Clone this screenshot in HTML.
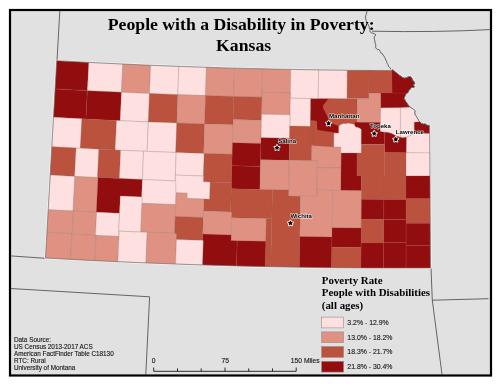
<!DOCTYPE html>
<html><head><meta charset="utf-8"><style>
html,body{margin:0;padding:0;background:#fff;}
svg{display:block;} text{will-change:transform;}
</style></head><body>
<svg width="500" height="386" viewBox="0 0 500 386">
<rect x="0" y="0" width="500" height="386" fill="#fff"/>
<rect x="10" y="10" width="481" height="365.5" fill="#e1e1e1" stroke="#000" stroke-width="2.2"/>
<g fill="none" stroke="#444" stroke-width="0.8">
<path d="M59.8,11 L57,60.7"/>
<path d="M10.6,255.9 L45.5,258.3"/>
<path d="M10.6,288.5 L149.6,296.8 L145.8,374.5"/>
<path d="M431,268 L432.3,300.2 L488.5,298.7"/>
<path d="M432.3,300.2 L442,374.5"/>
<path d="M366.90,10.50 L366.98,11.78 L366.60,13.00 L366.16,14.24 L365.80,15.50 L365.30,17.10 L365.66,18.33 L365.80,19.60 L366.26,20.89 L366.90,22.10 L367.50,23.41 L368.30,24.60 L369.08,26.16 L369.10,27.90 L369.93,29.45 L369.90,31.20 L370.54,32.26 L371.60,32.90 L372.92,33.09 L374.10,33.70 L375.70,34.50 L375.38,35.74 L374.23,36.58 L374.10,37.90 L374.53,39.54 L374.90,41.20 L375.01,42.92 L375.70,44.50 L375.72,46.15 L375.70,47.80 L376.46,48.74 L377.40,49.50 L378.75,49.60 L379.90,50.30 L380.18,51.59 L380.70,52.80 L382.40,53.60 L382.92,55.03 L384.00,56.10 L384.90,57.80 L385.41,58.91 L385.77,60.09 L386.50,61.10 L386.75,62.40 L387.30,63.60 L388.12,64.66 L388.20,66.00 L389.80,67.70 L390.79,68.97 L392.10,69.90"/>
<path d="M372,31.2 Q436,32.5 490,29.6"/>
</g>
<path d="M56.68,60.65 L98.56,62.88 L140.45,64.83 L182.36,66.48 L224.27,67.85 L266.20,68.92 L308.13,69.70 L350.06,70.19 L392.00,70.39 L391.90,69.60 L393.50,70.30 L394.70,71.40 L396.20,72.60 L397.80,73.80 L398.90,74.90 L400.10,75.70 L401.70,76.50 L402.80,77.70 L404.40,78.00 L406.30,77.70 L407.90,76.90 L409.40,76.50 L411.00,76.90 L412.10,78.40 L412.50,80.00 L413.70,81.20 L414.50,82.30 L414.90,83.90 L413.70,84.60 L412.90,85.00 L414.10,85.80 L414.90,86.60 L413.70,87.40 L412.10,87.40 L411.00,87.80 L410.20,89.30 L409.00,90.50 L408.30,92.00 L407.60,93.10 L406.80,93.10 L405.90,94.30 L405.00,96.20 L404.10,98.50 L405.40,100.80 L406.80,102.70 L408.20,105.00 L410.10,107.10 L412.00,108.30 L413.40,109.20 L414.80,110.20 L415.20,111.60 L414.80,112.90 L415.20,114.80 L416.60,116.70 L417.60,118.50 L418.50,120.40 L419.90,121.80 L421.30,123.20 L423.10,124.10 L425.00,123.70 L426.90,125.10 L429.50,125.40 L429.79,130.33 L430.46,268.03 L430.46,268.03 L382.32,268.07 L334.17,267.75 L286.02,267.06 L237.89,266.00 L189.76,264.56 L141.64,262.76 L93.55,260.58 L45.46,258.03Z" fill="none" stroke="#fff" stroke-opacity="0.9" stroke-width="2.0" stroke-linejoin="round"/>
<g>
<path stroke="#c06060" stroke-width="0.5" stroke-opacity="0.3" fill="#910d0e" d="M56.68,60.65 L88.84,62.39 L87.38,90.65 L55.08,88.90Z"/>
<path stroke="#7a6e6e" stroke-width="0.5" stroke-opacity="0.5" fill="#fde0df" d="M88.84,62.39 L122.80,64.05 L121.50,92.32 L87.38,90.65Z"/>
<path stroke="#7a6262" stroke-width="0.5" stroke-opacity="0.4" fill="#e09282" d="M122.80,64.05 L150.67,65.26 L149.50,93.54 L121.50,92.32Z"/>
<path stroke="#7a6e6e" stroke-width="0.5" stroke-opacity="0.5" fill="#fde0df" d="M150.67,65.26 L178.85,66.36 L177.81,94.64 L149.50,93.54Z"/>
<path stroke="#7a6e6e" stroke-width="0.5" stroke-opacity="0.5" fill="#fde0df" d="M178.85,66.36 L206.43,67.30 L205.53,95.59 L177.81,94.64Z"/>
<path stroke="#7a6262" stroke-width="0.5" stroke-opacity="0.4" fill="#e09282" d="M206.43,67.30 L234.52,68.14 L233.75,96.43 L205.53,95.59Z"/>
<path stroke="#7a6262" stroke-width="0.5" stroke-opacity="0.4" fill="#e09282" d="M234.52,68.14 L262.61,68.84 L261.97,97.13 L233.75,96.43Z"/>
<path stroke="#7a6262" stroke-width="0.5" stroke-opacity="0.4" fill="#e09282" d="M262.61,68.84 L290.81,69.41 L290.38,93.01 L262.08,92.43Z"/>
<path stroke="#7a6e6e" stroke-width="0.5" stroke-opacity="0.5" fill="#fde0df" d="M290.81,69.41 L318.60,69.85 L318.21,98.65 L290.29,98.21Z"/>
<path stroke="#7a6e6e" stroke-width="0.5" stroke-opacity="0.5" fill="#fde0df" d="M318.60,69.85 L347.30,70.17 L347.05,98.97 L318.21,98.65Z"/>
<path stroke="#7a5a50" stroke-width="0.5" stroke-opacity="0.25" fill="#bb523d" d="M347.30,70.17 L369.00,70.32 L368.86,98.62 L347.05,98.47Z"/>
<path stroke="#7a5a50" stroke-width="0.5" stroke-opacity="0.25" fill="#bb523d" d="M369.00,70.32 L392.00,70.39 L391.97,92.99 L368.88,92.92Z"/>
<path stroke="#c06060" stroke-width="0.5" stroke-opacity="0.3" fill="#910d0e" d="M55.08,88.90 L87.38,90.65 L85.92,119.02 L53.47,117.26Z"/>
<path stroke="#c06060" stroke-width="0.5" stroke-opacity="0.3" fill="#910d0e" d="M87.38,90.65 L121.50,92.32 L120.20,120.69 L85.92,119.02Z"/>
<path stroke="#7a6e6e" stroke-width="0.5" stroke-opacity="0.5" fill="#fde0df" d="M121.50,92.32 L149.50,93.54 L148.33,121.91 L120.20,120.69Z"/>
<path stroke="#7a5a50" stroke-width="0.5" stroke-opacity="0.25" fill="#bb523d" d="M149.50,93.54 L177.81,94.64 L176.78,123.02 L148.33,121.91Z"/>
<path stroke="#7a6262" stroke-width="0.5" stroke-opacity="0.4" fill="#e09282" d="M177.81,94.64 L205.53,95.59 L204.62,123.97 L176.78,123.02Z"/>
<path stroke="#7a5a50" stroke-width="0.5" stroke-opacity="0.25" fill="#bb523d" d="M205.53,95.59 L233.75,96.43 L232.97,124.81 L204.62,123.97Z"/>
<path stroke="#7a5a50" stroke-width="0.5" stroke-opacity="0.25" fill="#bb523d" d="M233.75,96.43 L261.97,97.13 L261.44,120.33 L233.11,119.62Z"/>
<path stroke="#7a6262" stroke-width="0.5" stroke-opacity="0.4" fill="#e09282" d="M262.08,92.43 L290.38,93.01 L289.99,114.71 L261.58,114.13Z"/>
<path stroke="#7a6e6e" stroke-width="0.5" stroke-opacity="0.5" fill="#fde0df" d="M290.29,98.21 L310.98,98.55 L310.57,126.45 L289.78,126.11Z"/>
<path stroke="#7a6e6e" stroke-width="0.5" stroke-opacity="0.5" fill="#fde0df" d="M53.47,117.26 L81.89,118.81 L80.35,148.27 L51.79,146.71Z"/>
<path stroke="#7a5a50" stroke-width="0.5" stroke-opacity="0.25" fill="#bb523d" d="M81.89,118.81 L116.57,120.52 L115.20,149.99 L80.35,148.27Z"/>
<path stroke="#7a6e6e" stroke-width="0.5" stroke-opacity="0.5" fill="#fde0df" d="M116.57,120.52 L148.33,121.91 L147.12,151.39 L115.20,149.99Z"/>
<path stroke="#7a6e6e" stroke-width="0.5" stroke-opacity="0.5" fill="#fde0df" d="M148.33,121.91 L176.78,123.02 L175.70,152.50 L147.12,151.39Z"/>
<path stroke="#7a5a50" stroke-width="0.5" stroke-opacity="0.25" fill="#bb523d" d="M176.78,123.02 L204.62,123.97 L203.67,153.46 L175.70,152.50Z"/>
<path stroke="#7a6262" stroke-width="0.5" stroke-opacity="0.4" fill="#e09282" d="M204.62,123.97 L232.97,124.81 L232.16,154.30 L203.67,153.46Z"/>
<path stroke="#7a6262" stroke-width="0.5" stroke-opacity="0.4" fill="#e09282" d="M233.11,119.62 L261.44,120.33 L260.92,143.42 L232.48,142.71Z"/>
<path stroke="#7a6e6e" stroke-width="0.5" stroke-opacity="0.5" fill="#fde0df" d="M261.58,114.13 L289.99,114.71 L289.56,138.30 L261.05,137.72Z"/>
<path stroke="#c06060" stroke-width="0.5" stroke-opacity="0.3" fill="#910d0e" d="M232.48,142.71 L260.92,143.42 L260.40,166.41 L231.85,165.70Z"/>
<path stroke="#c06060" stroke-width="0.5" stroke-opacity="0.3" fill="#910d0e" d="M261.05,137.72 L289.56,138.30 L289.17,160.30 L260.55,159.72Z"/>
<path stroke="#7a5a50" stroke-width="0.5" stroke-opacity="0.25" fill="#bb523d" d="M289.78,126.11 L312.09,126.47 L311.59,160.66 L289.17,160.30Z"/>
<path stroke="#7a5a50" stroke-width="0.5" stroke-opacity="0.25" fill="#bb523d" d="M310.82,109.75 L334.97,110.05 L334.60,145.15 L310.30,144.84Z"/>
<path stroke="#7a5a50" stroke-width="0.5" stroke-opacity="0.25" fill="#bb523d" d="M318.21,98.65 L357.20,99.05 L357.01,126.25 L334.74,132.05 L324.26,129.93Z"/>
<path stroke="#7a6262" stroke-width="0.5" stroke-opacity="0.4" fill="#e09282" d="M311.82,144.87 L334.60,145.15 L334.60,145.15 L341.28,145.22 L341.06,167.92 L317.29,167.64 L317.38,160.74 L311.59,160.66Z"/>
<path stroke="#7a5a50" stroke-width="0.5" stroke-opacity="0.25" fill="#bb523d" d="M51.79,146.71 L76.10,148.04 L74.60,176.40 L50.18,175.06Z"/>
<path stroke="#7a6e6e" stroke-width="0.5" stroke-opacity="0.5" fill="#fde0df" d="M76.10,148.04 L98.89,149.21 L97.49,177.57 L74.60,176.40Z"/>
<path stroke="#7a5a50" stroke-width="0.5" stroke-opacity="0.25" fill="#bb523d" d="M98.89,149.21 L120.67,150.24 L119.38,178.61 L97.49,177.57Z"/>
<path stroke="#7a6e6e" stroke-width="0.5" stroke-opacity="0.5" fill="#fde0df" d="M120.67,150.24 L143.57,151.24 L142.38,179.61 L119.38,178.61Z"/>
<path stroke="#7a6e6e" stroke-width="0.5" stroke-opacity="0.5" fill="#fde0df" d="M143.57,151.24 L176.20,152.52 L175.17,180.90 L142.38,179.61Z"/>
<path stroke="#7a6e6e" stroke-width="0.5" stroke-opacity="0.5" fill="#fde0df" d="M176.20,152.52 L204.18,153.47 L203.46,176.06 L175.38,175.10Z"/>
<path stroke="#7a5a50" stroke-width="0.5" stroke-opacity="0.25" fill="#bb523d" d="M204.18,153.47 L232.16,154.30 L231.39,182.69 L203.28,181.86Z"/>
<path stroke="#c06060" stroke-width="0.5" stroke-opacity="0.3" fill="#910d0e" d="M231.85,165.70 L260.40,166.41 L259.87,189.51 L231.22,188.79Z"/>
<path stroke="#7a6262" stroke-width="0.5" stroke-opacity="0.4" fill="#e09282" d="M260.55,159.72 L289.17,160.30 L288.63,190.09 L259.87,189.51Z"/>
<path stroke="#7a6262" stroke-width="0.5" stroke-opacity="0.4" fill="#e09282" d="M289.17,160.30 L317.38,160.74 L316.90,196.54 L288.52,196.09Z"/>
<path stroke="#7a6262" stroke-width="0.5" stroke-opacity="0.4" fill="#e09282" d="M317.29,167.64 L341.06,167.92 L340.85,190.52 L316.98,190.24Z"/>
<path stroke="#c06060" stroke-width="0.5" stroke-opacity="0.3" fill="#910d0e" d="M341.21,152.92 L361.68,153.08 L361.45,190.68 L340.85,190.52Z"/>
<path stroke="#7a5a50" stroke-width="0.5" stroke-opacity="0.25" fill="#bb523d" d="M356.98,144.45 L384.31,144.58 L384.23,176.08 L356.76,175.95Z"/>
<path stroke="#7a5a50" stroke-width="0.5" stroke-opacity="0.25" fill="#bb523d" d="M384.29,152.28 L405.98,152.30 L406.00,176.10 L384.23,176.08Z"/>
<path stroke="#7a6e6e" stroke-width="0.5" stroke-opacity="0.5" fill="#fde0df" d="M405.98,152.30 L429.90,152.23 L430.01,175.93 L406.00,176.00Z"/>
<path stroke="#7a6e6e" stroke-width="0.5" stroke-opacity="0.5" fill="#fde0df" d="M50.18,175.06 L74.90,176.42 L73.07,211.07 L48.21,209.71Z"/>
<path stroke="#7a6262" stroke-width="0.5" stroke-opacity="0.4" fill="#e09282" d="M74.90,176.42 L98.00,177.60 L96.30,212.26 L73.07,211.07Z"/>
<path stroke="#c06060" stroke-width="0.5" stroke-opacity="0.3" fill="#910d0e" d="M98.00,177.60 L142.38,179.61 L141.66,196.90 L120.33,195.97 L119.54,213.35 L96.30,212.26Z"/>
<path stroke="#7a6e6e" stroke-width="0.5" stroke-opacity="0.5" fill="#fde0df" d="M142.38,179.61 L176.49,180.95 L175.63,204.63 L141.39,203.29Z"/>
<path stroke="#7a6e6e" stroke-width="0.5" stroke-opacity="0.5" fill="#fde0df" d="M175.38,175.10 L203.46,176.06 L203.28,181.86 L210.20,182.08 L209.67,199.27 L186.90,198.53 L187.08,193.23 L176.06,192.84Z"/>
<path stroke="#7a5a50" stroke-width="0.5" stroke-opacity="0.25" fill="#bb523d" d="M210.20,182.08 L231.39,182.69 L230.59,211.88 L203.47,211.08 L203.85,199.09 L209.67,199.27Z"/>
<path stroke="#7a6262" stroke-width="0.5" stroke-opacity="0.4" fill="#e09282" d="M176.06,192.84 L187.08,193.23 L186.90,198.53 L203.85,199.09 L203.27,217.48 L175.20,216.52 L175.63,204.63 L175.63,204.63Z"/>
<path stroke="#7a5a50" stroke-width="0.5" stroke-opacity="0.25" fill="#bb523d" d="M231.22,188.79 L272.41,189.78 L271.81,218.77 L230.43,217.78Z"/>
<path stroke="#7a5a50" stroke-width="0.5" stroke-opacity="0.25" fill="#bb523d" d="M272.41,189.78 L288.63,190.09 L288.52,196.09 L300.46,196.30 L299.32,267.29 L270.82,266.76Z"/>
<path stroke="#7a6262" stroke-width="0.5" stroke-opacity="0.4" fill="#e09282" d="M300.46,196.30 L316.90,196.54 L316.98,190.24 L332.69,190.43 L332.18,237.03 L299.81,236.59Z"/>
<path stroke="#7a6262" stroke-width="0.5" stroke-opacity="0.4" fill="#e09282" d="M332.69,190.43 L361.45,190.68 L361.21,228.08 L332.28,227.83Z"/>
<path stroke="#7a5a50" stroke-width="0.5" stroke-opacity="0.25" fill="#bb523d" d="M361.54,175.98 L384.03,176.08 L383.97,199.38 L361.39,199.28Z"/>
<path stroke="#7a5a50" stroke-width="0.5" stroke-opacity="0.25" fill="#bb523d" d="M384.03,176.08 L406.00,176.10 L406.03,199.40 L383.97,199.38Z"/>
<path stroke="#c06060" stroke-width="0.5" stroke-opacity="0.3" fill="#910d0e" d="M406.00,176.00 L430.01,175.93 L430.13,198.63 L406.03,198.70Z"/>
<path stroke="#7a6262" stroke-width="0.5" stroke-opacity="0.4" fill="#e09282" d="M48.21,209.71 L73.48,211.09 L72.29,233.76 L46.92,232.37Z"/>
<path stroke="#7a6262" stroke-width="0.5" stroke-opacity="0.4" fill="#e09282" d="M73.48,211.09 L96.61,212.27 L95.47,235.44 L72.26,234.26Z"/>
<path stroke="#7a6e6e" stroke-width="0.5" stroke-opacity="0.5" fill="#fde0df" d="M96.61,212.27 L119.54,213.35 L118.49,236.53 L95.47,235.44Z"/>
<path stroke="#7a6e6e" stroke-width="0.5" stroke-opacity="0.5" fill="#fde0df" d="M120.33,195.97 L142.27,196.92 L140.81,232.09 L118.73,231.13Z"/>
<path stroke="#7a6262" stroke-width="0.5" stroke-opacity="0.4" fill="#e09282" d="M142.01,203.32 L175.63,204.63 L174.59,233.41 L140.81,232.09Z"/>
<path stroke="#7a5a50" stroke-width="0.5" stroke-opacity="0.25" fill="#bb523d" d="M175.20,216.52 L203.27,217.48 L202.54,240.37 L174.37,239.41Z"/>
<path stroke="#7a6262" stroke-width="0.5" stroke-opacity="0.4" fill="#e09282" d="M203.47,211.08 L231.81,211.92 L231.19,234.91 L202.74,234.07Z"/>
<path stroke="#7a6262" stroke-width="0.5" stroke-opacity="0.4" fill="#e09282" d="M231.65,217.81 L266.59,218.66 L266.10,241.36 L231.04,240.51Z"/>
<path stroke="#7a5a50" stroke-width="0.5" stroke-opacity="0.25" fill="#bb523d" d="M266.28,218.66 L271.81,218.77 L270.82,266.76 L265.25,266.65Z"/>
<path stroke="#c06060" stroke-width="0.5" stroke-opacity="0.3" fill="#910d0e" d="M361.39,199.28 L383.86,199.38 L383.81,219.58 L361.27,219.48Z"/>
<path stroke="#c06060" stroke-width="0.5" stroke-opacity="0.3" fill="#910d0e" d="M383.86,199.38 L406.03,199.40 L406.05,219.60 L383.81,219.58Z"/>
<path stroke="#7a5a50" stroke-width="0.5" stroke-opacity="0.25" fill="#bb523d" d="M406.03,198.70 L430.13,198.63 L430.25,223.23 L406.05,223.30Z"/>
<path stroke="#7a5a50" stroke-width="0.5" stroke-opacity="0.25" fill="#bb523d" d="M361.27,219.48 L383.81,219.58 L383.75,243.08 L361.12,242.98Z"/>
<path stroke="#c06060" stroke-width="0.5" stroke-opacity="0.3" fill="#910d0e" d="M383.81,219.58 L406.05,219.60 L406.07,242.70 L383.75,242.68Z"/>
<path stroke="#c06060" stroke-width="0.5" stroke-opacity="0.3" fill="#910d0e" d="M406.05,223.30 L430.25,223.23 L430.35,245.63 L406.07,245.70Z"/>
<path stroke="#7a6262" stroke-width="0.5" stroke-opacity="0.4" fill="#e09282" d="M46.92,232.37 L71.88,233.74 L70.52,259.40 L45.46,258.03Z"/>
<path stroke="#7a6262" stroke-width="0.5" stroke-opacity="0.4" fill="#e09282" d="M71.85,234.24 L96.09,235.47 L94.86,260.64 L70.52,259.40Z"/>
<path stroke="#7a6262" stroke-width="0.5" stroke-opacity="0.4" fill="#e09282" d="M96.09,235.47 L119.00,236.55 L117.86,261.73 L94.86,260.64Z"/>
<path stroke="#7a6e6e" stroke-width="0.5" stroke-opacity="0.5" fill="#fde0df" d="M119.25,231.16 L147.17,232.36 L145.93,262.93 L117.86,261.73Z"/>
<path stroke="#7a6262" stroke-width="0.5" stroke-opacity="0.4" fill="#e09282" d="M147.17,232.36 L176.64,233.49 L175.54,264.07 L145.93,262.93Z"/>
<path stroke="#7a6e6e" stroke-width="0.5" stroke-opacity="0.5" fill="#fde0df" d="M176.43,239.48 L203.36,240.39 L202.58,264.98 L175.54,264.07Z"/>
<path stroke="#c06060" stroke-width="0.5" stroke-opacity="0.3" fill="#910d0e" d="M202.74,234.07 L231.19,234.91 L231.04,240.51 L237.21,240.67 L236.54,265.96 L202.58,264.98 L203.36,240.39 L202.54,240.37Z"/>
<path stroke="#c06060" stroke-width="0.5" stroke-opacity="0.3" fill="#910d0e" d="M237.21,240.67 L265.79,241.35 L265.25,266.65 L236.54,265.96Z"/>
<path stroke="#c06060" stroke-width="0.5" stroke-opacity="0.3" fill="#910d0e" d="M299.81,236.59 L331.97,237.03 L331.64,267.73 L299.32,267.29Z"/>
<path stroke="#c06060" stroke-width="0.5" stroke-opacity="0.3" fill="#910d0e" d="M332.07,227.83 L361.21,228.08 L361.09,247.48 L331.86,247.23Z"/>
<path stroke="#7a5a50" stroke-width="0.5" stroke-opacity="0.25" fill="#bb523d" d="M331.86,247.23 L361.09,247.48 L360.96,267.98 L331.64,267.73Z"/>
<path stroke="#c06060" stroke-width="0.5" stroke-opacity="0.3" fill="#910d0e" d="M361.12,242.98 L383.75,243.08 L383.68,268.08 L360.96,267.98Z"/>
<path stroke="#c06060" stroke-width="0.5" stroke-opacity="0.3" fill="#910d0e" d="M383.75,242.68 L406.07,242.70 L406.09,268.10 L383.68,268.08Z"/>
<path stroke="#c06060" stroke-width="0.5" stroke-opacity="0.3" fill="#910d0e" d="M406.07,245.70 L430.35,245.63 L430.46,268.03 L406.09,268.10Z"/>
<path stroke="#7a5a50" stroke-width="0.5" stroke-opacity="0.25" fill="#bb523d" d="M310.80,98.80 L357.10,98.90 L357.10,128.00 L334.00,133.00 L310.80,127.00Z"/>
<path stroke="#7a5a50" stroke-width="0.5" stroke-opacity="0.25" fill="#bb523d" d="M310.80,118.00 L334.20,118.00 L333.80,147.00 L312.60,145.60 L312.60,126.70 L310.80,126.70Z"/>
<path stroke="#c06060" stroke-width="0.5" stroke-opacity="0.3" fill="#910d0e" d="M310.80,98.90 L328.30,98.90 L323.10,105.40 L323.10,108.00 L325.70,113.10 L330.30,122.80 L338.70,125.90 L338.70,133.30 L317.30,130.00 L316.70,120.90 L310.80,120.30Z"/>
<path stroke="#7a6e6e" stroke-width="0.5" stroke-opacity="0.5" fill="#fde0df" d="M338.70,125.90 L340.80,124.60 L342.40,123.80 L344.50,123.40 L346.60,123.80 L347.80,123.00 L349.90,123.40 L352.00,123.80 L354.00,124.20 L354.90,125.50 L355.30,126.30 L356.50,127.10 L358.60,127.50 L360.70,128.80 L361.40,129.60 L361.30,153.10 L340.70,153.10 L340.70,147.00 L333.80,147.00 L333.80,133.30 L338.70,133.30Z"/>
<path stroke="#c06060" stroke-width="0.5" stroke-opacity="0.3" fill="#910d0e" d="M354.90,122.10 L380.30,122.30 L380.30,131.30 L384.40,132.20 L384.60,144.20 L361.30,144.20 L361.40,129.60 L360.70,128.80 L358.60,127.50 L356.50,127.10 L355.30,126.30 L354.90,125.50Z"/>
<path stroke="#7a6262" stroke-width="0.5" stroke-opacity="0.4" fill="#e09282" d="M357.10,98.90 L369.20,98.90 L369.20,93.10 L380.80,93.10 L380.30,122.30 L356.80,122.30Z"/>
<path stroke="#7a6e6e" stroke-width="0.5" stroke-opacity="0.5" fill="#fde0df" d="M380.80,107.80 L400.50,107.50 L400.50,137.20 L396.40,136.00 L391.60,133.60 L388.00,132.60 L384.40,132.20 L380.30,131.30Z"/>
<path stroke="#7a6e6e" stroke-width="0.5" stroke-opacity="0.5" fill="#fde0df" d="M400.40,107.50 L410.10,107.10 L412.00,108.30 L413.40,109.20 L414.80,110.20 L415.20,111.60 L414.80,112.90 L415.20,114.80 L416.60,116.70 L417.60,118.50 L418.50,120.40 L419.90,121.80 L414.30,122.30 L414.40,133.60 L406.60,137.20 L402.40,137.80 L400.40,137.20Z"/>
<path stroke="#c06060" stroke-width="0.5" stroke-opacity="0.3" fill="#910d0e" d="M384.40,132.20 L388.00,132.60 L391.60,133.60 L396.40,136.00 L400.00,137.20 L402.40,137.80 L406.60,137.20 L406.40,152.60 L384.60,152.30Z"/>
<path stroke="#7a6e6e" stroke-width="0.5" stroke-opacity="0.5" fill="#fde0df" d="M406.60,137.20 L414.40,133.60 L429.50,133.20 L429.50,152.80 L406.40,152.60Z"/>
<path stroke="#c06060" stroke-width="0.5" stroke-opacity="0.3" fill="#910d0e" d="M414.30,122.30 L418.00,122.00 L419.90,121.80 L421.30,123.20 L423.10,124.10 L425.00,123.70 L426.90,125.10 L429.50,125.40 L429.50,133.20 L414.40,133.60Z"/>
<path stroke="#c06060" stroke-width="0.5" stroke-opacity="0.3" fill="#910d0e" d="M380.80,93.10 L407.60,93.10 L406.80,93.10 L405.90,94.30 L405.00,96.20 L404.10,98.50 L405.40,100.80 L406.80,102.70 L408.20,105.00 L410.10,107.10 L400.40,107.50 L380.80,107.80Z"/>
<path stroke="#c06060" stroke-width="0.5" stroke-opacity="0.3" fill="#910d0e" d="M391.90,69.60 L393.50,70.30 L394.70,71.40 L396.20,72.60 L397.80,73.80 L398.90,74.90 L400.10,75.70 L401.70,76.50 L402.80,77.70 L404.40,78.00 L406.30,77.70 L407.90,76.90 L409.40,76.50 L411.00,76.90 L412.10,78.40 L412.50,80.00 L413.70,81.20 L414.50,82.30 L414.90,83.90 L413.70,84.60 L412.90,85.00 L414.10,85.80 L414.90,86.60 L413.70,87.40 L412.10,87.40 L411.00,87.80 L410.20,89.30 L409.00,90.50 L408.30,92.00 L407.60,93.10 L392.10,93.10Z"/>
</g>

<path d="M56.68,60.65 L98.56,62.88 L140.45,64.83 L182.36,66.48 L224.27,67.85 L266.20,68.92 L308.13,69.70 L350.06,70.19 L392.00,70.39 L391.90,69.60 L393.50,70.30 L394.70,71.40 L396.20,72.60 L397.80,73.80 L398.90,74.90 L400.10,75.70 L401.70,76.50 L402.80,77.70 L404.40,78.00 L406.30,77.70 L407.90,76.90 L409.40,76.50 L411.00,76.90 L412.10,78.40 L412.50,80.00 L413.70,81.20 L414.50,82.30 L414.90,83.90 L413.70,84.60 L412.90,85.00 L414.10,85.80 L414.90,86.60 L413.70,87.40 L412.10,87.40 L411.00,87.80 L410.20,89.30 L409.00,90.50 L408.30,92.00 L407.60,93.10 L406.80,93.10 L405.90,94.30 L405.00,96.20 L404.10,98.50 L405.40,100.80 L406.80,102.70 L408.20,105.00 L410.10,107.10 L412.00,108.30 L413.40,109.20 L414.80,110.20 L415.20,111.60 L414.80,112.90 L415.20,114.80 L416.60,116.70 L417.60,118.50 L418.50,120.40 L419.90,121.80 L421.30,123.20 L423.10,124.10 L425.00,123.70 L426.90,125.10 L429.50,125.40 L429.79,130.33 L430.46,268.03 L430.46,268.03 L382.32,268.07 L334.17,267.75 L286.02,267.06 L237.89,266.00 L189.76,264.56 L141.64,262.76 L93.55,260.58 L45.46,258.03Z" fill="none" stroke="#6a6a6a" stroke-width="0.6" stroke-linejoin="round"/>
<path d="M391.90,69.60 L393.50,70.30 L394.70,71.40 L396.20,72.60 L397.08,73.09 L397.80,73.80 L398.90,74.90 L400.10,75.70 L401.70,76.50 L402.80,77.70 L404.40,78.00 L406.30,77.70 L407.90,76.90 L409.40,76.50 L411.00,76.90 L412.10,78.40 L412.50,80.00 L413.70,81.20 L414.50,82.30 L414.90,83.90 L413.70,84.60 L412.90,85.00 L414.10,85.80 L414.90,86.60 L413.70,87.40 L412.10,87.40 L411.00,87.80 L410.20,89.30 L409.00,90.50 L408.30,92.00 L407.60,93.10 L406.80,93.10 L405.90,94.30 L405.70,95.37 L405.00,96.20 L404.44,97.31 L404.10,98.50 L405.05,99.48 L405.40,100.80 L406.08,101.77 L406.80,102.70 L407.59,103.79 L408.20,105.00 L409.41,105.81 L410.10,107.10 L411.05,107.71 L412.00,108.30 L413.40,109.20 L414.80,110.20 L415.20,111.60 L414.80,112.90 L415.20,114.80 L416.20,115.53 L416.60,116.70 L417.15,117.57 L417.60,118.50 L418.36,119.30 L418.50,120.40 L419.90,121.80 L421.30,123.20 L422.35,123.36 L423.10,124.10 L425.00,123.70 L425.99,124.35 L426.90,125.10 L428.17,125.51 L429.50,125.40" fill="none" stroke="#5a5a5a" stroke-width="0.55" stroke-linejoin="round"/>
<g font-family="Liberation Sans, sans-serif" font-size="6.1" font-weight="bold" fill="#000" stroke="#fff" stroke-opacity="0.8" stroke-width="1.1" paint-order="stroke" stroke-linejoin="round">
<text x="329" y="118.2">Manhattan</text>
<text x="278.2" y="143">Salina</text>
<text x="370" y="128">Topeka</text>
<text x="395.8" y="133.8">Lawrence</text>
<text x="290.4" y="218">Wichita</text>
</g>
<g fill="#000" stroke="#fff" stroke-opacity="0.95" stroke-width="1.7" paint-order="stroke" stroke-linejoin="round">
<path d="M328.60,120.60 L329.39,122.31 L331.26,122.53 L329.88,123.82 L330.25,125.67 L328.60,124.74 L326.95,125.67 L327.32,123.82 L325.94,122.53 L327.81,122.31Z"/>
<path d="M277.00,145.00 L277.79,146.71 L279.66,146.93 L278.28,148.22 L278.65,150.07 L277.00,149.14 L275.35,150.07 L275.72,148.22 L274.34,146.93 L276.21,146.71Z"/>
<path d="M374.20,130.90 L374.99,132.61 L376.86,132.83 L375.48,134.12 L375.85,135.97 L374.20,135.04 L372.55,135.97 L372.92,134.12 L371.54,132.83 L373.41,132.61Z"/>
<path d="M395.80,136.60 L396.59,138.31 L398.46,138.53 L397.08,139.82 L397.45,141.67 L395.80,140.74 L394.15,141.67 L394.52,139.82 L393.14,138.53 L395.01,138.31Z"/>
<path d="M290.40,220.40 L291.19,222.11 L293.06,222.33 L291.68,223.62 L292.05,225.47 L290.40,224.54 L288.75,225.47 L289.12,223.62 L287.74,222.33 L289.61,222.11Z"/>
</g>
<g font-family="Liberation Serif, serif" font-weight="bold" fill="#000">
<text x="241.2" y="30.1" font-size="17.7" text-anchor="middle">People with a Disability in Poverty:</text>
<text x="243.6" y="50.7" font-size="17.7" text-anchor="middle">Kansas</text>
<text x="321.8" y="283.6" font-size="10.9">Poverty Rate</text>
<text x="321.8" y="296.4" font-size="10.9">People with Disabilities</text>
<text x="321.8" y="308.8" font-size="10.9">(all ages)</text>
</g>
<g stroke="#9a8a8a" stroke-width="0.6">
<rect x="321.6" y="317.1" width="22" height="10.8" fill="#fde0df"/>
<rect x="321.6" y="331.9" width="22" height="10.8" fill="#e09282"/>
<rect x="321.6" y="346.5" width="22" height="10.8" fill="#bb523d"/>
<rect x="321.6" y="361.3" width="22" height="10.8" fill="#910d0e"/>
</g>
<g font-family="Liberation Sans, sans-serif" font-size="6.9" fill="#111" stroke="#333" stroke-width="0.14">
<text x="347.3" y="325.1">3.2% - 12.9%</text>
<text x="347.3" y="339.6">13.0% - 18.2%</text>
<text x="347.3" y="354.1">18.3% - 21.7%</text>
<text x="347.3" y="369">21.8% - 30.4%</text>
</g>
<g font-family="Liberation Sans, sans-serif" font-size="6.35" fill="#111" stroke="#333" stroke-width="0.14">
<text x="14" y="342">Data Source:</text>
<text x="14" y="349.2">US Census 2013-2017 ACS</text>
<text x="14" y="356">American FactFinder Table C18130</text>
<text x="14" y="363.1">RTC: Rural</text>
<text x="14" y="370">University of Montana</text>
</g><g font-family="Liberation Sans, sans-serif" font-size="6.75" fill="#111" stroke="#333" stroke-width="0.14"><text x="151.8" y="362.9">0</text>
<text x="221.4" y="362.9">75</text>
<text x="290.8" y="362.9">150 Miles</text>
</g>
<g stroke="#000" stroke-width="0.8" fill="none">
<path d="M153.7,371.3 L296.2,371.3"/>
<path d="M153.7,367.5 L153.7,371.3 M177.5,368.4 L177.5,371.3 M201.2,368.4 L201.2,371.3 M225,367.5 L225,371.3 M248.7,368.4 L248.7,371.3 M272.5,368.4 L272.5,371.3 M296.2,367.5 L296.2,371.3"/>
</g>
</svg>
</body></html>
